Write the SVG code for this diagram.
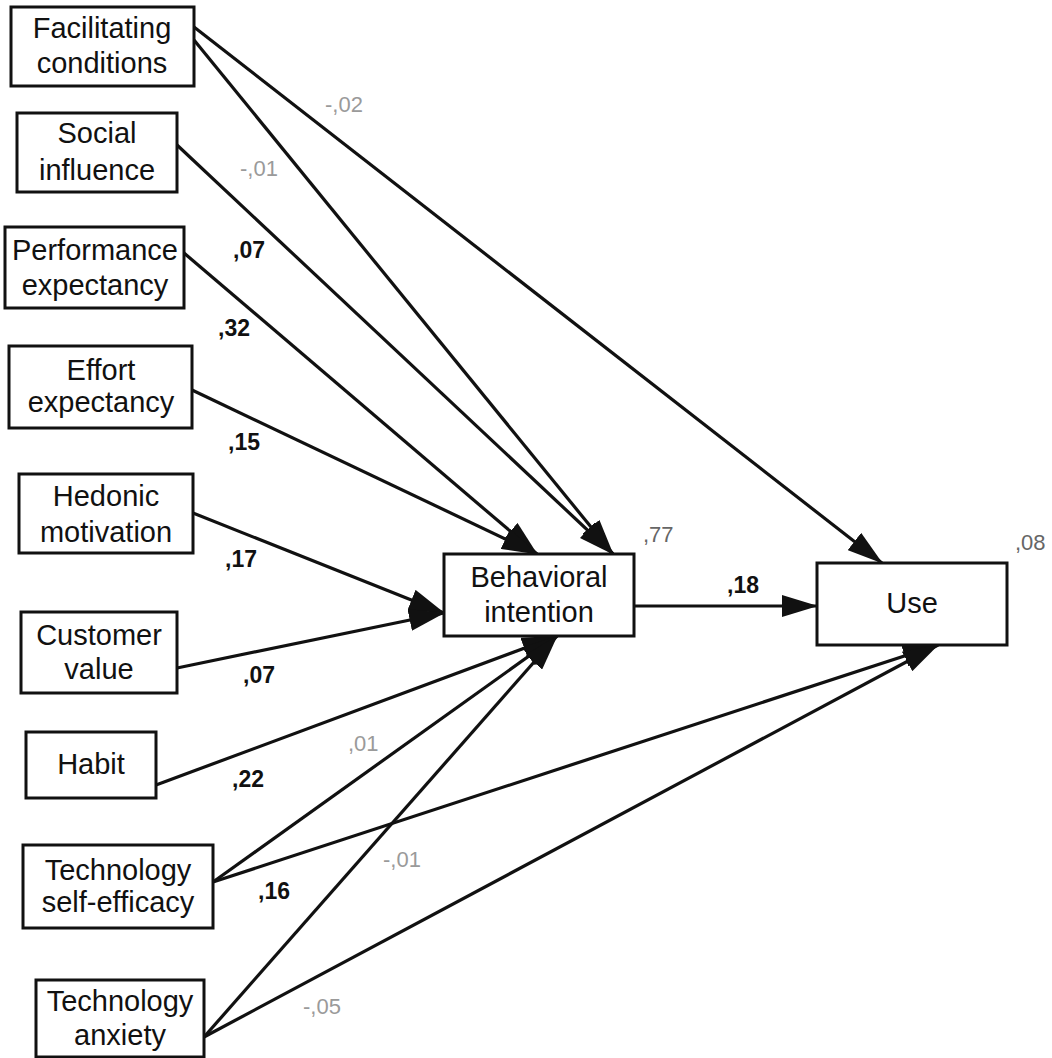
<svg xmlns="http://www.w3.org/2000/svg" width="1052" height="1058" viewBox="0 0 1052 1058">
<style>
.box{fill:#fff;stroke:#111;stroke-width:3}
.nt{font-family:"Liberation Sans",Arial,sans-serif;font-size:29px;fill:#111;text-anchor:middle}
.edge{fill:none;stroke:#111;stroke-width:3.2;marker-end:url(#ah)}
.lb{font-family:"Liberation Sans",Arial,sans-serif;font-size:23px;font-weight:bold;fill:#111}
.ns{font-family:"Liberation Sans",Arial,sans-serif;font-size:22px;fill:#9a9a9a}
.r2{font-family:"Liberation Sans",Arial,sans-serif;font-size:22px;fill:#666}
</style>
<defs>
<marker id="ah" markerUnits="userSpaceOnUse" markerWidth="36" markerHeight="22" refX="35" refY="11" orient="auto">
<path d="M0,0 L36,11 L0,22 Z" fill="#111"/>
</marker>
</defs>
<rect width="1052" height="1058" fill="#fff"/>
<g id="connectors">
<line class="edge" x1="194" y1="27" x2="882" y2="563"/>
<line class="edge" x1="194" y1="40" x2="613" y2="554"/>
<line class="edge" x1="177" y1="145" x2="613" y2="554"/>
<line class="edge" x1="184" y1="253" x2="537" y2="554"/>
<line class="edge" x1="192" y1="390" x2="537" y2="554"/>
<line class="edge" x1="193" y1="513" x2="444" y2="613"/>
<line class="edge" x1="177" y1="668" x2="444" y2="613"/>
<line class="edge" x1="156" y1="785" x2="557" y2="636"/>
<line class="edge" x1="213" y1="882" x2="557" y2="636"/>
<line class="edge" x1="213" y1="882" x2="938" y2="645"/>
<line class="edge" x1="204" y1="1037" x2="557" y2="636"/>
<line class="edge" x1="204" y1="1037" x2="938" y2="645"/>
<line class="edge" x1="634" y1="606" x2="817" y2="606"/>
</g>
<g id="edge-labels">
<text class="ns" x="325" y="112">-,02</text>
<text class="ns" x="240" y="176">-,01</text>
<text class="lb" x="233" y="258">,07</text>
<text class="lb" x="218" y="336">,32</text>
<text class="lb" x="228" y="450">,15</text>
<text class="lb" x="225" y="567">,17</text>
<text class="lb" x="243" y="683">,07</text>
<text class="lb" x="232" y="787">,22</text>
<text class="ns" x="348" y="751">,01</text>
<text class="lb" x="258" y="899">,16</text>
<text class="ns" x="383" y="867">-,01</text>
<text class="ns" x="303" y="1014">-,05</text>
<text class="lb" x="727" y="593">,18</text>
<text class="r2" x="643" y="542">,77</text>
<text class="r2" x="1015" y="550">,08</text>
</g>
<g id="facilitating-conditions"><rect class="box" x="11" y="7" width="183" height="79"/><text class="nt" x="102" y="38">Facilitating</text><text class="nt" x="102" y="73">conditions</text></g>
<g id="social-influence"><rect class="box" x="17" y="113" width="160" height="79"/><text class="nt" x="97" y="143">Social</text><text class="nt" x="97" y="180">influence</text></g>
<g id="performance-expectancy"><rect class="box" x="5" y="227" width="179" height="81"/><text class="nt" x="95" y="260">Performance</text><text class="nt" x="95" y="295">expectancy</text></g>
<g id="effort-expectancy"><rect class="box" x="9" y="346" width="183" height="82"/><text class="nt" x="101" y="380">Effort</text><text class="nt" x="101" y="412">expectancy</text></g>
<g id="hedonic-motivation"><rect class="box" x="19" y="474" width="174" height="79"/><text class="nt" x="106" y="506">Hedonic</text><text class="nt" x="106" y="542">motivation</text></g>
<g id="customer-value"><rect class="box" x="21" y="612" width="156" height="81"/><text class="nt" x="99" y="645">Customer</text><text class="nt" x="99" y="679">value</text></g>
<g id="habit"><rect class="box" x="26" y="732" width="130" height="66"/><text class="nt" x="91" y="774">Habit</text></g>
<g id="technology-self-efficacy"><rect class="box" x="23" y="845" width="190" height="83"/><text class="nt" x="118" y="880">Technology</text><text class="nt" x="118" y="912">self-efficacy</text></g>
<g id="technology-anxiety"><rect class="box" x="36" y="980" width="168" height="77"/><text class="nt" x="120" y="1011">Technology</text><text class="nt" x="120" y="1045">anxiety</text></g>
<g id="behavioral-intention"><rect class="box" x="444" y="554" width="190" height="82"/><text class="nt" x="539" y="587">Behavioral</text><text class="nt" x="539" y="622">intention</text></g>
<g id="use"><rect class="box" x="817" y="563" width="190" height="82"/><text class="nt" x="912" y="613">Use</text></g>
</svg>
